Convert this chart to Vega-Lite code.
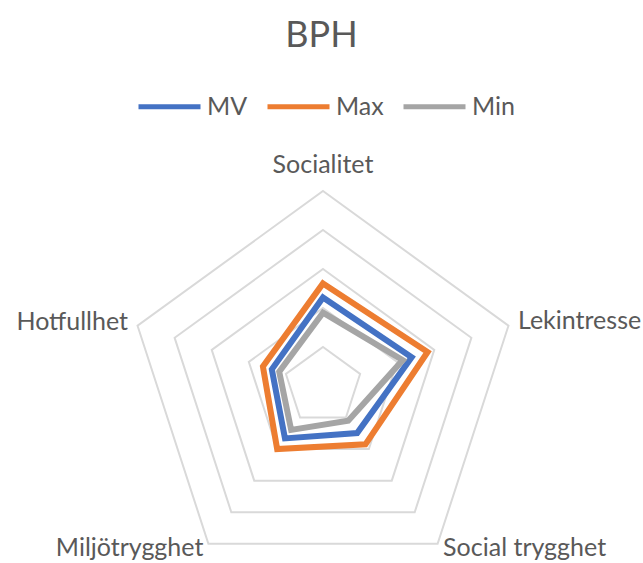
{
  "$schema": "https://vega.github.io/schema/vega-lite/v6.json",
  "width": 643,
  "height": 423,
  "autosize": {"type": "none"},
  "padding": {"top": 140, "left": 0, "right": 0, "bottom": 0},
  "background": "white",
  "title": {"text": "BPH", "anchor": "middle", "font": "Lato", "fontSize": 36, "fontWeight": "normal", "color": "#595959", "baseline": "alphabetic", "offset": -10},
  "config": {"view": {"stroke": null}},
  "datasets": {
    "scores": [
      {"kategori": "Socialitet", "idx": 0, "MV": 2.27, "Max": 2.63, "Min": 1.88},
      {"kategori": "Lekintresse", "idx": 1, "MV": 2.39, "Max": 2.82, "Min": 2.15},
      {"kategori": "Social trygghet", "idx": 2, "MV": 1.49, "Max": 1.85, "Min": 1.10},
      {"kategori": "Miljötrygghet", "idx": 3, "MV": 1.66, "Max": 2.00, "Min": 1.39},
      {"kategori": "Hotfullhet", "idx": 4, "MV": 1.38, "Max": 1.62, "Min": 1.18}
    ],
    "axes": [
      {"kategori": "Socialitet", "idx": 0, "levels": [1, 2, 3, 4, 5]},
      {"kategori": "Lekintresse", "idx": 1, "levels": [1, 2, 3, 4, 5]},
      {"kategori": "Social trygghet", "idx": 2, "levels": [1, 2, 3, 4, 5]},
      {"kategori": "Miljötrygghet", "idx": 3, "levels": [1, 2, 3, 4, 5]},
      {"kategori": "Hotfullhet", "idx": 4, "levels": [1, 2, 3, 4, 5]}
    ]
  },
  "layer": [
    {
      "data": {"name": "axes"},
      "transform": [
        {"flatten": ["levels"]},
        {"calculate": "datum.idx * 2 * PI / 5", "as": "ang"},
        {"calculate": "datum.levels * sin(datum.ang)", "as": "gx"},
        {"calculate": "datum.levels * cos(datum.ang)", "as": "gy"}
      ],
      "mark": {"type": "line", "interpolate": "linear-closed", "stroke": "#d9d9d9", "strokeWidth": 2},
      "encoding": {
        "x": {"field": "gx", "type": "quantitative", "scale": {"domain": [-8.282, 8.205], "nice": false, "zero": false}, "axis": null},
        "y": {"field": "gy", "type": "quantitative", "scale": {"domain": [-4.5385, 6.3077], "nice": false, "zero": false}, "axis": null},
        "detail": {"field": "levels", "type": "nominal"},
        "order": {"field": "idx", "type": "quantitative"}
      }
    },
    {
      "data": {"name": "scores"},
      "transform": [
        {"fold": ["MV", "Max", "Min"], "as": ["serie", "value"]},
        {"calculate": "datum.idx * 2 * PI / 5", "as": "ang"},
        {"calculate": "datum.value * sin(datum.ang)", "as": "px"},
        {"calculate": "datum.value * cos(datum.ang)", "as": "py"}
      ],
      "mark": {"type": "line", "interpolate": "linear-closed", "strokeWidth": 6},
      "encoding": {
        "x": {"field": "px", "type": "quantitative", "scale": {"domain": [-8.282, 8.205], "nice": false, "zero": false}, "axis": null},
        "y": {"field": "py", "type": "quantitative", "scale": {"domain": [-4.5385, 6.3077], "nice": false, "zero": false}, "axis": null},
        "color": {
          "field": "serie", "type": "nominal",
          "scale": {"domain": ["MV", "Max", "Min"], "range": ["#4472C4", "#ED7D31", "#A5A5A5"]},
          "legend": {
            "title": null, "orient": "none", "direction": "horizontal", "legendX": 136, "legendY": -67,
            "symbolType": "stroke", "symbolSize": 3844, "symbolStrokeWidth": 5,
            "labelFont": "Lato", "labelFontSize": 25, "labelColor": "#595959", "labelOffset": 4,
            "columnPadding": 9, "padding": 0
          }
        },
        "order": {"field": "idx", "type": "quantitative"}
      }
    },
    {
      "data": {"name": "axes"},
      "transform": [
        {"filter": "datum.idx == 0"},
        {"calculate": "datum.idx * 2 * PI / 5", "as": "ang"},
        {"calculate": "5 * sin(datum.ang)", "as": "lx"},
        {"calculate": "5 * cos(datum.ang)", "as": "ly"}
      ],
      "mark": {"type": "text", "font": "Lato", "fontSize": 25, "color": "#595959", "align": "center", "baseline": "alphabetic", "dy": -18},
      "encoding": {
        "x": {"field": "lx", "type": "quantitative", "scale": {"domain": [-8.282, 8.205], "nice": false, "zero": false}, "axis": null},
        "y": {"field": "ly", "type": "quantitative", "scale": {"domain": [-4.5385, 6.3077], "nice": false, "zero": false}, "axis": null},
        "text": {"field": "kategori"}
      }
    },
    {
      "data": {"name": "axes"},
      "transform": [
        {"filter": "datum.idx == 1"},
        {"calculate": "datum.idx * 2 * PI / 5", "as": "ang"},
        {"calculate": "5 * sin(datum.ang)", "as": "lx"},
        {"calculate": "5 * cos(datum.ang)", "as": "ly"}
      ],
      "mark": {"type": "text", "font": "Lato", "fontSize": 25, "color": "#595959", "align": "left", "baseline": "alphabetic", "dx": 9.5, "dy": 3.5},
      "encoding": {
        "x": {"field": "lx", "type": "quantitative", "scale": {"domain": [-8.282, 8.205], "nice": false, "zero": false}, "axis": null},
        "y": {"field": "ly", "type": "quantitative", "scale": {"domain": [-4.5385, 6.3077], "nice": false, "zero": false}, "axis": null},
        "text": {"field": "kategori"}
      }
    },
    {
      "data": {"name": "axes"},
      "transform": [
        {"filter": "datum.idx == 2"},
        {"calculate": "datum.idx * 2 * PI / 5", "as": "ang"},
        {"calculate": "5 * sin(datum.ang)", "as": "lx"},
        {"calculate": "5 * cos(datum.ang)", "as": "ly"}
      ],
      "mark": {"type": "text", "font": "Lato", "fontSize": 25, "color": "#595959", "align": "left", "baseline": "alphabetic", "dx": 5.5, "dy": 12},
      "encoding": {
        "x": {"field": "lx", "type": "quantitative", "scale": {"domain": [-8.282, 8.205], "nice": false, "zero": false}, "axis": null},
        "y": {"field": "ly", "type": "quantitative", "scale": {"domain": [-4.5385, 6.3077], "nice": false, "zero": false}, "axis": null},
        "text": {"field": "kategori"}
      }
    },
    {
      "data": {"name": "axes"},
      "transform": [
        {"filter": "datum.idx == 3"},
        {"calculate": "datum.idx * 2 * PI / 5", "as": "ang"},
        {"calculate": "5 * sin(datum.ang)", "as": "lx"},
        {"calculate": "5 * cos(datum.ang)", "as": "ly"}
      ],
      "mark": {"type": "text", "font": "Lato", "fontSize": 25, "color": "#595959", "align": "right", "baseline": "alphabetic", "dx": -5, "dy": 12},
      "encoding": {
        "x": {"field": "lx", "type": "quantitative", "scale": {"domain": [-8.282, 8.205], "nice": false, "zero": false}, "axis": null},
        "y": {"field": "ly", "type": "quantitative", "scale": {"domain": [-4.5385, 6.3077], "nice": false, "zero": false}, "axis": null},
        "text": {"field": "kategori"}
      }
    },
    {
      "data": {"name": "axes"},
      "transform": [
        {"filter": "datum.idx == 4"},
        {"calculate": "datum.idx * 2 * PI / 5", "as": "ang"},
        {"calculate": "5 * sin(datum.ang)", "as": "lx"},
        {"calculate": "5 * cos(datum.ang)", "as": "ly"}
      ],
      "mark": {"type": "text", "font": "Lato", "fontSize": 25, "color": "#595959", "align": "right", "baseline": "alphabetic", "dx": -9.5, "dy": 4},
      "encoding": {
        "x": {"field": "lx", "type": "quantitative", "scale": {"domain": [-8.282, 8.205], "nice": false, "zero": false}, "axis": null},
        "y": {"field": "ly", "type": "quantitative", "scale": {"domain": [-4.5385, 6.3077], "nice": false, "zero": false}, "axis": null},
        "text": {"field": "kategori"}
      }
    }
  ]
}
